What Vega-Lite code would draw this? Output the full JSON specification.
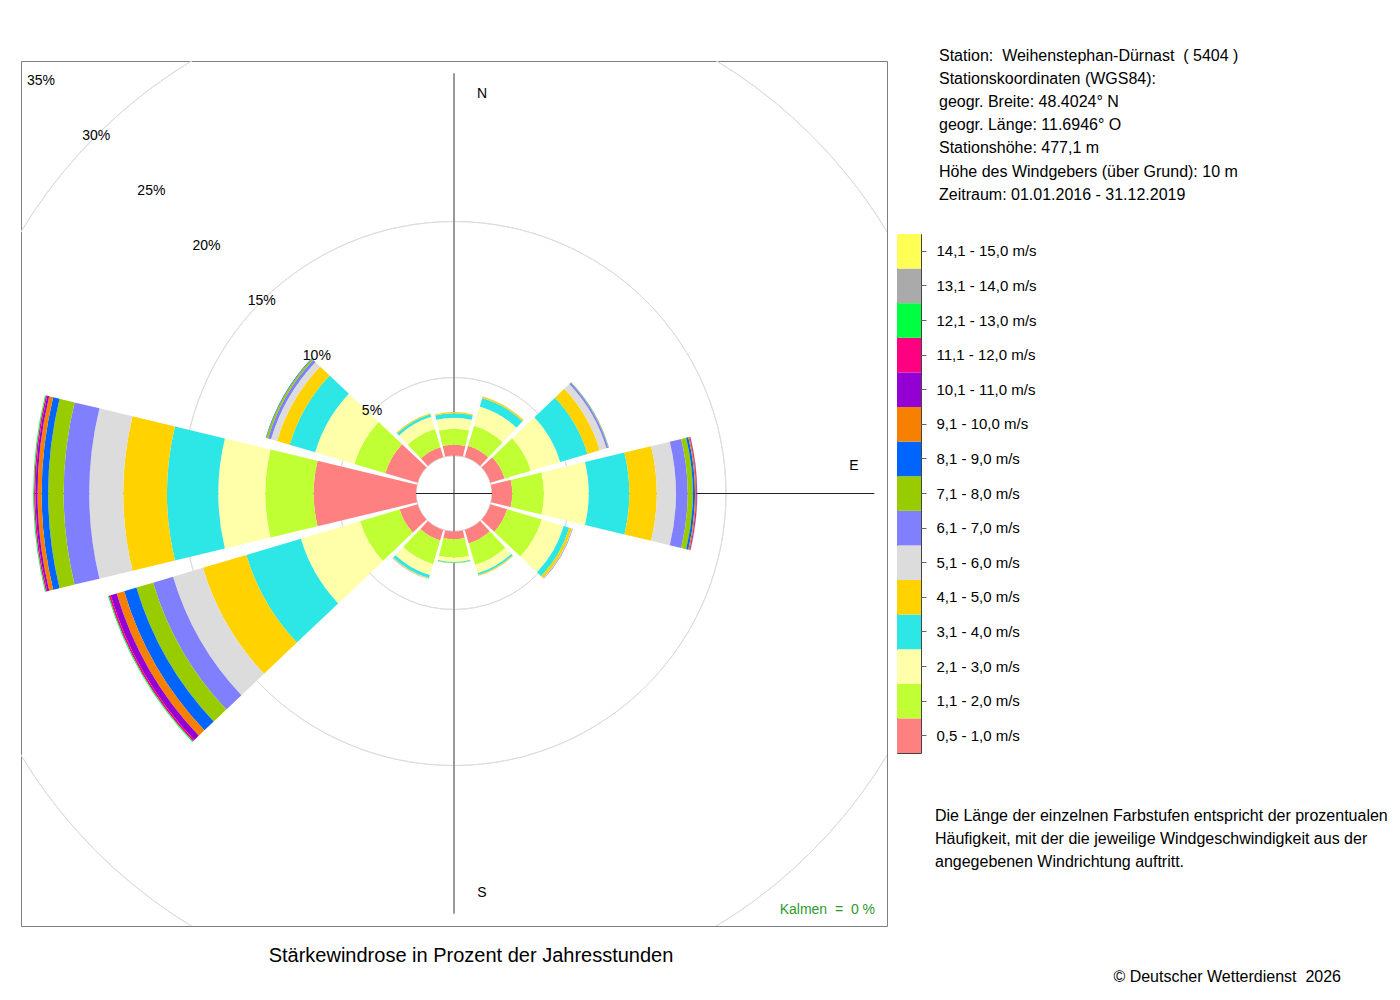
{
  "$schema": "https://vega.github.io/schema/vega-lite/v6.json",
  "background": "white",
  "padding": {"left": 20, "top": 48, "right": 0, "bottom": 0},
  "bounds": "flush",
  "spacing": 10,
  "config": {
    "font": "Liberation Sans",
    "view": {"stroke": null},
    "title": {"font": "Liberation Sans", "fontWeight": "normal", "color": "black"}
  },
  "datasets": {
    "rings": [
      {"pct": 0, "lab": ""}, {"pct": 5, "lab": "5%"}, {"pct": 10, "lab": "10%"},
      {"pct": 15, "lab": "15%"}, {"pct": 20, "lab": "20%"}, {"pct": 25, "lab": "25%"},
      {"pct": 30, "lab": "30%"}, {"pct": 35, "lab": "35%"}
    ],
    "classes": [
      {"k": 1, "cls": "0,5 - 1,0 m/s"}, {"k": 2, "cls": "1,1 - 2,0 m/s"},
      {"k": 3, "cls": "2,1 - 3,0 m/s"}, {"k": 4, "cls": "3,1 - 4,0 m/s"},
      {"k": 5, "cls": "4,1 - 5,0 m/s"}, {"k": 6, "cls": "5,1 - 6,0 m/s"},
      {"k": 7, "cls": "6,1 - 7,0 m/s"}, {"k": 8, "cls": "7,1 - 8,0 m/s"},
      {"k": 9, "cls": "8,1 - 9,0 m/s"}, {"k": 10, "cls": "9,1 - 10,0 m/s"},
      {"k": 11, "cls": "10,1 - 11,0 m/s"}, {"k": 12, "cls": "11,1 - 12,0 m/s"},
      {"k": 13, "cls": "12,1 - 13,0 m/s"}, {"k": 14, "cls": "13,1 - 14,0 m/s"},
      {"k": 15, "cls": "14,1 - 15,0 m/s"}
    ],
    "wind": [
      {"dir": "N", "k": 1, "pct": 0.69}, {"dir": "N", "k": 2, "pct": 1.03}, {"dir": "N", "k": 3, "pct": 0.70},
      {"dir": "N", "k": 4, "pct": 0.28}, {"dir": "N", "k": 5, "pct": 0.08},
      {"dir": "NNE", "k": 1, "pct": 0.75}, {"dir": "NNE", "k": 2, "pct": 1.35}, {"dir": "NNE", "k": 3, "pct": 1.28},
      {"dir": "NNE", "k": 4, "pct": 0.57}, {"dir": "NNE", "k": 5, "pct": 0.10}, {"dir": "NNE", "k": 6, "pct": 0.02},
      {"dir": "ENE", "k": 1, "pct": 0.95}, {"dir": "ENE", "k": 2, "pct": 1.75}, {"dir": "ENE", "k": 3, "pct": 1.97},
      {"dir": "ENE", "k": 4, "pct": 1.82}, {"dir": "ENE", "k": 5, "pct": 0.82}, {"dir": "ENE", "k": 6, "pct": 0.45},
      {"dir": "ENE", "k": 7, "pct": 0.11}, {"dir": "ENE", "k": 8, "pct": 0.04}, {"dir": "ENE", "k": 9, "pct": 0.01},
      {"dir": "E", "k": 1, "pct": 1.30}, {"dir": "E", "k": 2, "pct": 2.03}, {"dir": "E", "k": 3, "pct": 2.87},
      {"dir": "E", "k": 4, "pct": 2.60}, {"dir": "E", "k": 5, "pct": 1.76}, {"dir": "E", "k": 6, "pct": 1.23},
      {"dir": "E", "k": 7, "pct": 0.75}, {"dir": "E", "k": 8, "pct": 0.33}, {"dir": "E", "k": 9, "pct": 0.14},
      {"dir": "E", "k": 10, "pct": 0.08}, {"dir": "E", "k": 11, "pct": 0.04}, {"dir": "E", "k": 12, "pct": 0.02},
      {"dir": "E", "k": 13, "pct": 0.01},
      {"dir": "ESE", "k": 1, "pct": 1.12}, {"dir": "ESE", "k": 2, "pct": 2.31}, {"dir": "ESE", "k": 3, "pct": 1.47},
      {"dir": "ESE", "k": 4, "pct": 0.37}, {"dir": "ESE", "k": 5, "pct": 0.18}, {"dir": "ESE", "k": 6, "pct": 0.03},
      {"dir": "ESE", "k": 7, "pct": 0.03},
      {"dir": "SSE", "k": 1, "pct": 0.90}, {"dir": "SSE", "k": 2, "pct": 1.45}, {"dir": "SSE", "k": 3, "pct": 0.55},
      {"dir": "SSE", "k": 4, "pct": 0.12}, {"dir": "SSE", "k": 5, "pct": 0.05}, {"dir": "SSE", "k": 6, "pct": 0.02},
      {"dir": "S", "k": 1, "pct": 0.50}, {"dir": "S", "k": 2, "pct": 1.18}, {"dir": "S", "k": 3, "pct": 0.27},
      {"dir": "S", "k": 4, "pct": 0.07}, {"dir": "S", "k": 5, "pct": 0.02},
      {"dir": "SSW", "k": 1, "pct": 0.70}, {"dir": "SSW", "k": 2, "pct": 1.60}, {"dir": "SSW", "k": 3, "pct": 0.72},
      {"dir": "SSW", "k": 4, "pct": 0.20}, {"dir": "SSW", "k": 5, "pct": 0.05}, {"dir": "SSW", "k": 6, "pct": 0.02},
      {"dir": "SSW", "k": 7, "pct": 0.01},
      {"dir": "WSW", "k": 1, "pct": 1.20}, {"dir": "WSW", "k": 2, "pct": 2.65}, {"dir": "WSW", "k": 3, "pct": 3.95},
      {"dir": "WSW", "k": 4, "pct": 3.65}, {"dir": "WSW", "k": 5, "pct": 2.90}, {"dir": "WSW", "k": 6, "pct": 2.00},
      {"dir": "WSW", "k": 7, "pct": 1.33}, {"dir": "WSW", "k": 8, "pct": 1.12}, {"dir": "WSW", "k": 9, "pct": 0.82},
      {"dir": "WSW", "k": 10, "pct": 0.50}, {"dir": "WSW", "k": 11, "pct": 0.40}, {"dir": "WSW", "k": 12, "pct": 0.12},
      {"dir": "WSW", "k": 13, "pct": 0.06},
      {"dir": "W", "k": 1, "pct": 6.56}, {"dir": "W", "k": 2, "pct": 3.10}, {"dir": "W", "k": 3, "pct": 3.01},
      {"dir": "W", "k": 4, "pct": 3.29}, {"dir": "W", "k": 5, "pct": 2.80}, {"dir": "W", "k": 6, "pct": 2.18},
      {"dir": "W", "k": 7, "pct": 1.64}, {"dir": "W", "k": 8, "pct": 0.99}, {"dir": "W", "k": 9, "pct": 0.42},
      {"dir": "W", "k": 10, "pct": 0.26}, {"dir": "W", "k": 11, "pct": 0.13}, {"dir": "W", "k": 12, "pct": 0.09},
      {"dir": "W", "k": 13, "pct": 0.06},
      {"dir": "WNW", "k": 1, "pct": 2.15}, {"dir": "WNW", "k": 2, "pct": 2.08}, {"dir": "WNW", "k": 3, "pct": 2.62},
      {"dir": "WNW", "k": 4, "pct": 1.70}, {"dir": "WNW", "k": 5, "pct": 0.85}, {"dir": "WNW", "k": 6, "pct": 0.40},
      {"dir": "WNW", "k": 7, "pct": 0.20}, {"dir": "WNW", "k": 8, "pct": 0.12}, {"dir": "WNW", "k": 9, "pct": 0.03},
      {"dir": "NNW", "k": 1, "pct": 0.65}, {"dir": "NNW", "k": 2, "pct": 1.22}, {"dir": "NNW", "k": 3, "pct": 0.82},
      {"dir": "NNW", "k": 4, "pct": 0.17}, {"dir": "NNW", "k": 5, "pct": 0.07}, {"dir": "NNW", "k": 6, "pct": 0.01}
    ]
  },
  "hconcat": [
    {
      "width": 866,
      "height": 865,
      "view": {"stroke": "#7f7f7f", "strokeWidth": 1},
      "title": {
        "text": "Stärkewindrose in Prozent der Jahresstunden",
        "orient": "bottom",
        "fontSize": 20,
        "offset": 20,
        "dx": 17
      },
      "layer": [
        {
          "data": {"name": "rings"},
          "mark": {"type": "arc", "filled": false, "stroke": "#dddddd", "strokeWidth": 1, "clip": true},
          "encoding": {
            "radius": {"field": "pct", "type": "quantitative",
              "scale": {"type": "linear", "domain": [0, 35], "range": [38, 584], "nice": false}},
            "theta": {"value": 0},
            "theta2": {"value": 6.2832}
          }
        },
        {
          "data": {"values": [{"dir": "N"}, {"dir": "S"}]},
          "mark": {"type": "arc", "stroke": "#7a7a7a", "strokeWidth": 1.5, "fill": null},
          "encoding": {
            "theta": {"field": "dir", "type": "nominal",
              "scale": {"type": "band", "domain": ["N", "NNE", "ENE", "E", "ESE", "SSE", "S", "SSW", "WSW", "W", "WNW", "NNW"],
                "range": [-0.261799, 6.021386], "paddingInner": 0.1, "paddingOuter": 0.05}},
            "theta2": {"field": "dir"},
            "radius": {"datum": 24.5},
            "radius2": {"value": 0}
          }
        },
        {
          "data": {"values": [{"dir": "E"}, {"dir": "W"}]},
          "mark": {"type": "arc", "stroke": "#222222", "strokeWidth": 1, "fill": null},
          "encoding": {
            "theta": {"field": "dir", "type": "nominal",
              "scale": {"type": "band", "domain": ["N", "NNE", "ENE", "E", "ESE", "SSE", "S", "SSW", "WSW", "W", "WNW", "NNW"],
                "range": [-0.261799, 6.021386], "paddingInner": 0.1, "paddingOuter": 0.05}},
            "theta2": {"field": "dir"},
            "radius": {"datum": 24.5},
            "radius2": {"value": 0}
          }
        },
        {
          "data": {"name": "wind"},
          "mark": {"type": "arc"},
          "encoding": {
            "theta": {"field": "dir", "type": "nominal",
              "scale": {"type": "band", "domain": ["N", "NNE", "ENE", "E", "ESE", "SSE", "S", "SSW", "WSW", "W", "WNW", "NNW"],
                "range": [-0.261799, 6.021386], "paddingInner": 0.1, "paddingOuter": 0.05}},
            "radius": {"field": "pct", "type": "quantitative", "stack": "zero"},
            "color": {"field": "k", "type": "ordinal",
              "scale": {"domain": [1, 2, 3, 4, 5, 6, 7, 8, 9, 10, 11, 12, 13, 14, 15],
                "range": ["#FF8080", "#BFFF33", "#FFFFAA", "#2DE6E6", "#FFD200", "#DCDCDC", "#8080FF", "#99CC00", "#0064FF", "#F88000", "#9400D3", "#FF0080", "#00FF40", "#AAAAAA", "#FFFF55"]},
              "legend": null},
            "order": {"field": "k", "type": "quantitative"}
          }
        },
        {
          "data": {"name": "rings"},
          "transform": [{"filter": "datum.pct > 0"}],
          "mark": {"type": "text", "fontSize": 14, "align": "center", "baseline": "middle", "color": "black"},
          "encoding": {
            "radius": {"field": "pct", "type": "quantitative"},
            "theta": {"value": 5.497787},
            "text": {"field": "lab"}
          }
        },
        {
          "data": {"values": [{"dir": "N"}, {"dir": "S"}]},
          "mark": {"type": "text", "fontSize": 14, "align": "center", "baseline": "middle", "dx": 28, "color": "black"},
          "encoding": {
            "theta": {"field": "dir", "type": "nominal"},
            "radius": {"datum": 23.2},
            "text": {"field": "dir"}
          }
        },
        {
          "data": {"values": [{"dir": "E"}]},
          "mark": {"type": "text", "fontSize": 14, "align": "center", "baseline": "middle", "dy": -28, "color": "black"},
          "encoding": {
            "theta": {"field": "dir", "type": "nominal"},
            "radius": {"datum": 23.2},
            "text": {"field": "dir"}
          }
        },
        {
          "data": {"values": [{"calm": 0}]},
          "mark": {"type": "text", "text": "Kalmen\u00a0\u00a0=\u00a0\u00a00 %", "fontSize": 14, "align": "right", "baseline": "alphabetic", "dx": -12, "dy": -12, "color": "#2e9a2e"},
          "encoding": {
            "x": {"value": "width"},
            "y": {"value": "height"}
          }
        }
      ]
    },
    {
      "bounds": "flush",
      "spacing": 0,
      "vconcat": [
        {
          "width": 444,
          "height": 173,
          "data": {"values": [{"id": 5404}]},
          "mark": {
            "type": "text",
            "text": [
              "Station:\u00a0\u00a0Weihenstephan-Dürnast\u00a0\u00a0( 5404 )",
              "Stationskoordinaten (WGS84):",
              "geogr. Breite: 48.4024° N",
              "geogr. Länge: 11.6946° O",
              "Stationshöhe: 477,1 m",
              "Höhe des Windgebers (über Grund): 10 m",
              "Zeitraum: 01.01.2016 - 31.12.2019"
            ],
            "fontSize": 16, "lineHeight": 23.1, "align": "left", "baseline": "alphabetic",
            "dx": 42, "dy": 0, "color": "black"
          },
          "encoding": {"x": {"value": 0}, "y": {"value": 0}}
        },
        {
          "width": 24,
          "height": 519,
          "data": {"name": "classes"},
          "view": {"stroke": "#444444", "strokeWidth": 1},
          "mark": {"type": "rect"},
          "encoding": {
            "y": {"field": "cls", "type": "ordinal", "sort": {"field": "k", "order": "descending"},
              "scale": {"paddingInner": 0, "paddingOuter": 0},
              "axis": {"orient": "right", "title": null, "domain": false, "tickColor": "#666666", "tickSize": 5,
                "labelFontSize": 15, "labelPadding": 10, "labelColor": "black", "grid": false}},
            "color": {"field": "k", "type": "ordinal",
              "scale": {"domain": [1, 2, 3, 4, 5, 6, 7, 8, 9, 10, 11, 12, 13, 14, 15],
                "range": ["#FF8080", "#BFFF33", "#FFFFAA", "#2DE6E6", "#FFD200", "#DCDCDC", "#8080FF", "#99CC00", "#0064FF", "#F88000", "#9400D3", "#FF0080", "#00FF40", "#AAAAAA", "#FFFF55"]},
              "legend": null}
          }
        },
        {
          "width": 444,
          "height": 248,
          "data": {"values": [{"year": 2026}]},
          "layer": [
            {
              "mark": {
                "type": "text",
                "text": [
                  "Die Länge der einzelnen Farbstufen entspricht der prozentualen",
                  "Häufigkeit, mit der die jeweilige Windgeschwindigkeit aus der",
                  "angegebenen Windrichtung auftritt."
                ],
                "fontSize": 16, "lineHeight": 23, "align": "left", "baseline": "alphabetic",
                "dx": 38, "dy": 68, "color": "black"
              },
              "encoding": {"x": {"value": 0}, "y": {"value": 0}}
            },
            {
              "mark": {
                "type": "text",
                "text": "© Deutscher Wetterdienst\u00a0\u00a02026",
                "fontSize": 16, "align": "right", "baseline": "alphabetic", "dy": 229, "color": "black"
              },
              "encoding": {"x": {"value": "width"}, "y": {"value": 0}}
            }
          ]
        }
      ]
    }
  ]
}
